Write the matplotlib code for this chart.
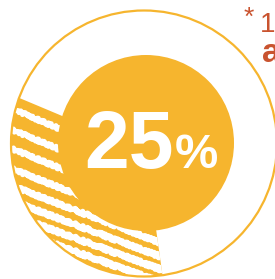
import numpy as np
import matplotlib
matplotlib.use("Agg")
import matplotlib.pyplot as plt
from matplotlib.patches import Circle, Wedge, Polygon

# valores
pct = 25
label = f"{pct}"
note_mark = "*"
note_num = "1"
note_word = "a"

orange = "#f6b52e"
red = "#c9532f"

fig = plt.figure(figsize=(2.75, 2.79), dpi=100)
ax = fig.add_axes([0, 0, 1, 1])
ax.set_xlim(0, 275)
ax.set_ylim(279, 0)
ax.axis("off")

cx, cy, R = 144, 143.5, 133
icx, icy, r = 146, 143, 88

# anillo exterior
ax.add_patch(Circle((cx, cy), R, fill=False, ec=orange, lw=1.6, zorder=3))

# zona rayada (porcentaje)
hatch = Wedge((cx, cy), R, 82, 205, width=R - 75, fc=orange, ec="none", zorder=1)
ax.add_patch(hatch)
clip = Polygon([(0, 97 - 0.42 * 17), (275, 97 + 0.42 * 258), (275, 279), (0, 279)],
               closed=True, transform=ax.transData)
hatch.set_clip_path(clip)

x = np.array([0, 275])
y0s = [110, 131, 150, 170, 187, 202, 216, 230, 244, 258]
slopes = np.linspace(0.42, 0.34, len(y0s))
widths = np.linspace(3.4, 4.4, len(y0s))
for y0, m, w in zip(y0s, slopes, widths):
    ln, = ax.plot(x, y0 + m * (x - 15), color="white", lw=w, zorder=2,
                  solid_capstyle="butt")
    ln.set_sketch_params(scale=1.6, length=2.5, randomness=3)
    ln.set_clip_path(hatch)

# circulo interior
ax.add_patch(Circle((icx, icy), r, fc=orange, ec="none", zorder=4))

ax.text(174, 168, label, color="white", fontsize=58, fontweight="bold",
        family="Liberation Sans", ha="right", va="baseline", zorder=5)
ax.text(175, 168, "%", color="white", fontsize=35, fontweight="bold",
        family="Liberation Sans", ha="left", va="baseline", zorder=5)

# nota
ax.text(244, 25, note_mark, color=red, fontsize=19, family="Liberation Sans",
        ha="left", va="baseline", zorder=5)
ax.text(260, 32, note_num, color=red, fontsize=20, family="Liberation Sans",
        ha="left", va="baseline", zorder=5)
ax.text(262, 62, note_word, color=red, fontsize=24, fontweight="bold",
        family="Liberation Sans", ha="left", va="baseline", zorder=5)

plt.savefig("out.png", dpi=100)
plt.close()
